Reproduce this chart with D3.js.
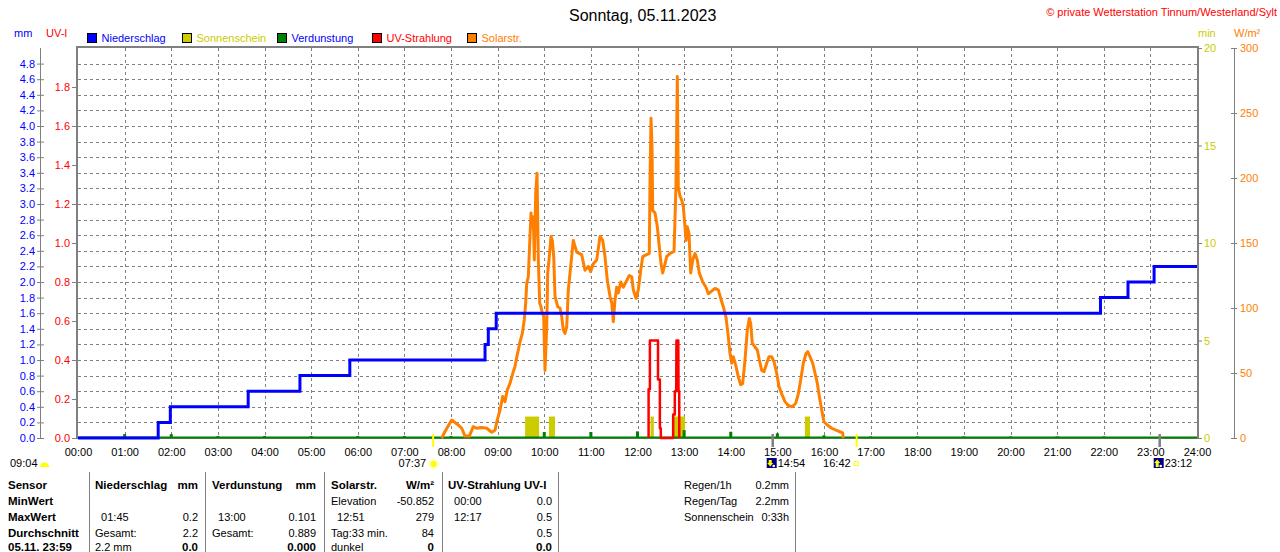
<!DOCTYPE html>
<html>
<head>
<meta charset="utf-8">
<script src="https://cdn.jsdelivr.net/npm/d3@7"></script>
<style>
body{margin:0;background:#fff;}
svg text{font-family:"Liberation Sans",Arial,sans-serif;white-space:pre;}
</style>
</head>
<body>
<div id="chart"></div>
<script>
/* ---------- Daten ---------- */
// Niederschlag, Tagessumme in mm (Stufen)
var rainTime  = [0, 1.72, 1.98, 3.65, 4.76, 5.83, 8.73, 8.80, 8.97, 21.93, 22.52, 23.08, 24];
var rainValue = [0, 0.2, 0.4, 0.6, 0.8, 1.0, 1.2, 1.4, 1.6, 1.8, 2.0, 2.2, 2.2];

// Sonnenschein, Minuten je Intervall
var sunFrom    = [9.59, 10.10, 12.28, 12.77, 15.59];
var sunTo      = [9.89, 10.23, 12.35, 13.02, 15.70];
var sunMinutes = [1.1, 1.1, 1.1, 1.1, 1.1];

// Verdunstung je Stunde, mm
var evapHour  = [1, 2, 3, 4, 5, 6, 7, 8, 9, 10, 11, 12, 13, 14, 15, 16, 17, 18, 19, 20, 21, 22, 23];
var evapValue = [0.05, 0.05, 0.025, 0.025, 0.025, 0.025, 0.025, 0.025, 0.01, 0.077, 0.077, 0.085, 0.101,
                 0.08, 0.06, 0.035, 0.02, 0.02, 0.02, 0.02, 0.02, 0.02, 0.01];

// UV-Strahlung, UV-Index
var uvTime  = [0, 12.238, 12.238, 12.266, 12.266, 12.44, 12.44, 12.48, 12.48, 12.50, 12.50,
               12.765, 12.765, 12.80, 12.80, 12.83, 12.835, 12.875, 12.88, 12.895, 12.895, 24];
var uvValue = [0, 0, 0.25, 0.25, 0.5, 0.5, 0.3, 0.3, 0.05, 0.05, 0,
               0, 0.12, 0.12, 0.24, 0.24, 0.5, 0.5, 0.24, 0.24, 0, 0];

// Solarstrahlung, W/m²
var solarTime = [7.801, 7.871, 8.015, 8.122, 8.230, 8.300, 8.393, 8.478, 8.551, 8.659, 8.766, 8.873, 8.944,
    8.993, 9.051, 9.109, 9.158, 9.208, 9.265, 9.336, 9.373, 9.409, 9.444, 9.480, 9.529, 9.572, 9.602,
    9.624, 9.658, 9.694, 9.716, 9.744, 9.765, 9.787, 9.817, 9.845, 9.873, 9.903, 9.930, 9.958, 9.988,
    10.016, 10.053, 10.074, 10.102, 10.145, 10.173, 10.203, 10.231, 10.289, 10.338, 10.374, 10.409,
    10.445, 10.482, 10.516, 10.567, 10.623, 10.696, 10.803, 10.874, 10.945, 10.996, 11.052, 11.125,
    11.196, 11.254, 11.303, 11.352, 11.410, 11.447, 11.481, 11.517, 11.554, 11.588, 11.640, 11.695,
    11.753, 11.824, 11.876, 11.910, 11.968, 12.017, 12.069, 12.112, 12.197, 12.253, 12.268, 12.290,
    12.311, 12.326, 12.376, 12.425, 12.468, 12.504, 12.540, 12.590, 12.626, 12.697, 12.783, 12.804,
    12.826, 12.854, 12.875, 12.912, 12.948, 12.982, 13.019, 13.040, 13.068, 13.104, 13.141, 13.184,
    13.233, 13.283, 13.325, 13.398, 13.469, 13.519, 13.591, 13.662, 13.733, 13.784, 13.840, 13.898,
    13.947, 13.984, 14.020, 14.054, 14.106, 14.162, 14.213, 14.256, 14.306, 14.355, 14.398, 14.428,
    14.462, 14.520, 14.570, 14.613, 14.664, 14.713, 14.771, 14.820, 14.878, 14.928, 14.985, 15.035,
    15.093, 15.163, 15.234, 15.320, 15.393, 15.449, 15.500, 15.556, 15.614, 15.651, 15.700, 15.758,
    15.807, 15.857, 15.900, 15.951, 16.000, 16.071, 16.165, 16.257, 16.328, 16.401, 16.414];
var solarValue = [0, 5, 13.8, 11, 7.5, 1.5, 1.5, 8.7, 7.5, 8, 7.5, 4.4, 6,
    14, 21.5, 32, 28, 37, 42, 51, 55, 62, 67.7, 74, 80.5, 91, 103.6,
    119, 124, 155, 173, 162.5, 170, 137, 188, 203.6, 137, 103.6, 101, 96, 93.6,
    52, 85.6, 127, 137, 155, 152, 139.5, 109, 101, 100, 93.6, 83,
    80.5, 85.6, 114, 132, 152, 143, 141, 129, 132, 128, 134, 137,
    155, 152, 139.5, 121.5, 109, 104, 89.5, 106, 116, 111.5, 120, 116,
    120, 125, 124, 114, 107.5, 114, 129, 139.5, 141, 142, 196, 246,
    224, 175, 173, 162.5, 147, 134, 127, 134, 139.5, 142, 143.5, 168,
    196, 278, 193, 186, 183, 178, 162.5, 152, 162.5, 157.5, 127, 137,
    142, 137, 127, 120, 116, 111, 113, 115, 114, 107.5, 101, 93,
    78, 65, 57.5, 62.5, 56, 47, 41, 42, 60, 83, 92, 88,
    73, 70, 67.7, 60, 52, 51, 57.5, 62.5, 62.5, 58.7, 50, 39.5,
    34, 28, 25, 24, 26.7, 34, 44.6, 57.5, 65, 66.4, 62.5, 57.5,
    50, 42, 32, 21.5, 12.5, 10, 7.5, 6, 5, 4, 0];

// Achsen
var hourTicks = d3.range(0, 25);
var mmTicks   = d3.range(0, 4.81, 0.2);
var uvTicks   = d3.range(0, 1.81, 0.2);
var minTicks  = [0, 5, 10, 15, 20];
var wTicks    = [0, 50, 100, 150, 200, 250, 300];

// Legende
var legendNames  = ["Niederschlag", "Sonnenschein", "Verdunstung", "UV-Strahlung", "Solarstr."];
var legendFill   = ["#0000ff", "#cccc00", "#008000", "#ff0000", "#ff8000"];
var legendColor  = ["#0000ff", "#cccc00", "#0000ff", "#ff0000", "#ff8000"];

// Sonne / Mond
var sunEvents  = [{t: 7.617, label: "07:37", type: "rise"}, {t: 16.70, label: "16:42", type: "set"}];
var moonEvents = [{t: 14.90, label: "14:54", type: "set"}, {t: 23.20, label: "23:12", type: "rise"}];
var dayLength  = "09:04";

// Tabelle
var tableRows = [
    ["Sensor", "Niederschlag", "mm", "Verdunstung", "mm", "Solarstr.", "W/m²", "UV-Strahlung UV-I", ""],
    ["MinWert", "", "", "", "", "Elevation", "-50.852", "  00:00", "0.0"],
    ["MaxWert", "  01:45", "0.2", "  13:00", "0.101", "  12:51", "279", "  12:17", "0.5"],
    ["Durchschnitt", "Gesamt:", "2.2", "Gesamt:", "0.889", "Tag:33 min.", "84", "", "0.5"],
    ["05.11. 23:59", "2.2 mm", "0.0", "", "0.000", "dunkel", "0", "", "0.0"]
];
var sideRows = [["Regen/1h", "0.2mm"], ["Regen/Tag", "2.2mm"], ["Sonnenschein", "0:33h"]];

/* ---------- Layout ---------- */
var chart = {width: 1280, height: 552, left: 78, right: 1197, top: 48, bottom: 438};
var grey = "#808080";

var svg = d3.select("#chart")
    .append("svg")
    .attr("width", chart.width)
    .attr("height", chart.height);

svg.append("rect").attr("width", chart.width).attr("height", chart.height).style("fill", "#fff");

var x    = d3.scaleLinear().domain([0, 24]).range([chart.left, chart.right]);
var yMm  = d3.scaleLinear().domain([0, 5]).range([chart.bottom, chart.top]);
var yUv  = d3.scaleLinear().domain([0, 2]).range([chart.bottom, chart.top]);
var yMin = d3.scaleLinear().domain([0, 20]).range([chart.bottom, chart.top]);
var yW   = d3.scaleLinear().domain([0, 300]).range([chart.bottom, chart.top]);

/* Titel */
svg.append("text")
    .attr("x", 569).attr("y", 21)
    .text("Sonntag, 05.11.2023")
    .style("font-size", "16px")
    .style("fill", "#000");

svg.append("text")
    .attr("x", 1277).attr("y", 16)
    .attr("text-anchor", "end")
    .text("© private Wetterstation Tinnum/Westerland/Sylt")
    .style("font-size", "11px")
    .style("fill", "#ff0000");

/* Einheiten */
var units = [
    {x: 14, anchor: "start", text: "mm", color: "#0000ff"},
    {x: 46, anchor: "start", text: "UV-I", color: "#ff0000"},
    {x: 1198, anchor: "start", text: "min", color: "#cccc00"},
    {x: 1234, anchor: "start", text: "W/m²", color: "#ff8000"}
];
svg.selectAll("text.unit")
    .data(units)
    .enter()
    .append("text")
    .attr("class", "unit")
    .attr("x", function (d) { return d.x; })
    .attr("y", 37)
    .attr("text-anchor", function (d) { return d.anchor; })
    .text(function (d) { return d.text; })
    .style("font-size", "11px")
    .style("fill", function (d) { return d.color; });

/* Legende */
var legend = svg.selectAll("g.legend")
    .data(legendNames)
    .enter()
    .append("g")
    .attr("class", "legend")
    .attr("transform", function (d, i) { return "translate(" + (87.5 + i * 95) + ",33.5)"; });

legend.append("rect")
    .attr("width", 9).attr("height", 9)
    .style("fill", function (d, i) { return legendFill[i]; })
    .style("stroke", "#000")
    .style("stroke-width", 1);

legend.append("text")
    .attr("x", 14).attr("y", 8.5)
    .text(function (d) { return d; })
    .style("font-size", "11px")
    .style("fill", function (d, i) { return legendColor[i]; });

/* Gitter */
var grid = svg.append("g").style("stroke", grey).style("stroke-dasharray", "3,3").style("stroke-width", 1);
grid.selectAll("line.h")
    .data(mmTicks.filter(function (d) { return d > 0; }))
    .enter()
    .append("line")
    .attr("x1", chart.left).attr("x2", chart.right)
    .attr("y1", function (d) { return Math.round(yMm(d)) + 0.5; })
    .attr("y2", function (d) { return Math.round(yMm(d)) + 0.5; });
grid.selectAll("line.v")
    .data(hourTicks.filter(function (d) { return d > 0 && d < 24; }))
    .enter()
    .append("line")
    .attr("y1", chart.top).attr("y2", chart.bottom)
    .attr("x1", function (d) { return Math.round(x(d)) + 0.5; })
    .attr("x2", function (d) { return Math.round(x(d)) + 0.5; });

/* Rahmen */
svg.append("rect")
    .attr("x", chart.left - 1).attr("y", chart.top - 1)
    .attr("width", chart.right - chart.left + 2)
    .attr("height", chart.bottom - chart.top + 1)
    .style("fill", "none")
    .style("stroke", grey)
    .style("stroke-width", 2);

/* Achsen */
function styleAxis(g, color) {
    g.select(".domain").remove();
    g.selectAll(".tick line").style("stroke", grey);
    g.selectAll(".tick text")
        .style("fill", color)
        .style("font-size", "11px")
        .style("font-family", "'Liberation Sans',Arial,sans-serif");
}

// mm (links außen)
svg.append("line")
    .attr("x1", 40.5).attr("x2", 40.5).attr("y1", chart.top).attr("y2", chart.bottom)
    .style("stroke", grey).style("stroke-width", 1);
svg.append("g")
    .attr("transform", "translate(44,0)")
    .call(d3.axisLeft(yMm).tickValues(mmTicks).tickFormat(d3.format(".1f")).tickSize(7).tickPadding(2))
    .call(styleAxis, "#0000ff");

// UV-I (links innen)
svg.append("g")
    .attr("transform", "translate(77,0)")
    .call(d3.axisLeft(yUv).tickValues(uvTicks).tickFormat(d3.format(".1f")).tickSize(5).tickPadding(2))
    .call(styleAxis, "#ff0000");

// min (rechts)
svg.append("g")
    .attr("transform", "translate(" + chart.right + ",0)")
    .call(d3.axisRight(yMin).tickValues(minTicks).tickSize(5).tickPadding(2))
    .call(styleAxis, "#cccc00");

// W/m² (rechts außen)
svg.append("line")
    .attr("x1", 1234.5).attr("x2", 1234.5).attr("y1", chart.top).attr("y2", chart.bottom)
    .style("stroke", grey).style("stroke-width", 1);
svg.append("g")
    .attr("transform", "translate(1231,0)")
    .call(d3.axisRight(yW).tickValues(wTicks).tickSize(6).tickPadding(3))
    .call(styleAxis, "#ff8000");

// Zeit
svg.append("g")
    .attr("transform", "translate(0," + chart.bottom + ")")
    .call(d3.axisBottom(x).tickValues(hourTicks)
        .tickFormat(function (d) { return d3.format("02")(d) + ":00"; })
        .tickSize(0).tickPadding(10))
    .call(styleAxis, "#000");

/* Sonnenschein */
svg.selectAll("rect.sun")
    .data(sunFrom)
    .enter()
    .append("rect")
    .attr("class", "sun")
    .attr("x", function (d) { return x(d); })
    .attr("width", function (d, i) { return x(sunTo[i]) - x(d); })
    .attr("y", function (d, i) { return yMin(sunMinutes[i]); })
    .attr("height", function (d, i) { return chart.bottom - yMin(sunMinutes[i]); })
    .style("fill", "#cccc00");

/* Verdunstung */
svg.selectAll("rect.evap")
    .data(evapHour)
    .enter()
    .append("rect")
    .attr("class", "evap")
    .attr("x", function (d) { return x(d) - 1.5; })
    .attr("width", 3)
    .attr("y", function (d, i) { return yMm(evapValue[i]); })
    .attr("height", function (d, i) { return chart.bottom - yMm(evapValue[i]); })
    .style("fill", "#008000");

svg.append("line")
    .attr("x1", chart.left).attr("x2", chart.right)
    .attr("y1", chart.bottom - 0.5).attr("y2", chart.bottom - 0.5)
    .style("stroke", "#008000")
    .style("stroke-width", 2);

/* Solarstrahlung */
var solarLine = d3.line()
    .x(function (d) { return x(d[0]); })
    .y(function (d) { return yW(d[1]); });
svg.append("path")
    .attr("d", solarLine(d3.zip(solarTime, solarValue)))
    .style("fill", "none")
    .style("stroke", "#ff8000")
    .style("stroke-width", 3)
    .style("stroke-linejoin", "round");

/* UV-Strahlung */
var uvLine = d3.line()
    .x(function (d) { return x(d[0]); })
    .y(function (d) { return yUv(d[1]); });
svg.append("path")
    .attr("d", uvLine(d3.zip(uvTime, uvValue).filter(function (d, i) {
        return d[1] > 0 || (uvValue[i - 1] > 0) || (uvValue[i + 1] > 0);
    })))
    .style("fill", "none")
    .style("stroke", "#ff0000")
    .style("stroke-width", 2.5)
    .style("stroke-linejoin", "round");

/* Niederschlag */
var rainLine = d3.line()
    .x(function (d) { return x(d[0]); })
    .y(function (d) { return yMm(d[1]); })
    .curve(d3.curveStepAfter);
svg.append("path")
    .attr("d", rainLine(d3.zip(rainTime, rainValue)))
    .style("fill", "none")
    .style("stroke", "#0000ff")
    .style("stroke-width", 3);

/* Sonne und Mond unter der Zeitachse */
var astro = svg.append("g");

sunEvents.forEach(function (e) {
    var cx = x(e.t);
    astro.append("line")
        .attr("x1", cx).attr("x2", cx).attr("y1", 434).attr("y2", 447)
        .style("stroke", "#ffff00").style("stroke-width", 2);
    if (e.type == "rise") {
        var s = astro.append("g").attr("transform", "translate(" + (cx + 0.5) + ",464)");
        d3.range(8).forEach(function (k) {
            var a = k * Math.PI / 4;
            s.append("line")
                .attr("x1", Math.cos(a) * 3.5).attr("y1", Math.sin(a) * 3.5)
                .attr("x2", Math.cos(a) * 5.5).attr("y2", Math.sin(a) * 5.5)
                .style("stroke", "#ffff66").style("stroke-width", 1);
        });
        s.append("circle").attr("r", 3.2).style("fill", "#ffff00");
        astro.append("text")
            .attr("x", cx - 7).attr("y", 467).attr("text-anchor", "end")
            .text(e.label).style("font-size", "11px").style("fill", "#000");
    } else {
        astro.append("rect")
            .attr("x", cx - 2.5).attr("y", 461.5).attr("width", 4).attr("height", 4)
            .style("fill", "none").style("stroke", "#ffff00");
        astro.append("text")
            .attr("x", cx - 6).attr("y", 467).attr("text-anchor", "end")
            .text(e.label).style("font-size", "11px").style("fill", "#000");
    }
});

moonEvents.forEach(function (e) {
    var cx = x(e.t);
    astro.append("line")
        .attr("x1", cx).attr("x2", cx).attr("y1", 434).attr("y2", 447)
        .style("stroke", grey).style("stroke-width", 2.5);
    var m = astro.append("g").attr("transform", "translate(" + (cx - 6) + ",458)");
    m.append("rect").attr("width", 10).attr("height", 10).style("fill", "#000080");
    m.append("circle").attr("cx", 7).attr("cy", 8).attr("r", 1.3).style("fill", "#fff");
    m.append("path")
        .attr("d", e.type == "set" ? "M2,2 L5,2 L5,5 L6.5,5 L3.5,8.5 L0.5,5 L2,5 Z"
                                    : "M3.5,1.5 L6.5,5 L5,5 L5,9 L2,9 L2,5 L0.5,5 Z")
        .style("fill", "#ffff00");
    astro.append("text")
        .attr("x", cx + 5).attr("y", 467)
        .text(e.label).style("font-size", "11px").style("fill", "#000");
});

astro.append("text")
    .attr("x", 10).attr("y", 467)
    .text(dayLength).style("font-size", "11px").style("fill", "#000");
astro.append("path")
    .attr("transform", "translate(44.5,467)")
    .attr("d", d3.arc()({innerRadius: 0, outerRadius: 4.5, startAngle: -Math.PI / 2, endAngle: Math.PI / 2}))
    .style("fill", "#ffff00");

/* Tabelle */
var colX      = [8, 95, 198, 212, 316, 331, 434, 448, 552];
var colAnchor = ["start", "start", "end", "start", "end", "start", "end", "start", "end"];
var rowY      = [489, 505, 521, 536.5, 550.5];

[89, 205, 324, 442, 558, 795].forEach(function (sx) {
    svg.append("line")
        .attr("x1", sx + 0.5).attr("x2", sx + 0.5).attr("y1", 472).attr("y2", chart.height)
        .style("stroke", grey).style("stroke-width", 1);
});

tableRows.forEach(function (row, r) {
    row.forEach(function (cell, c) {
        if (cell === "") return;
        var bold = r == 0 || c == 0 || (r == 4 && colAnchor[c] == "end");
        svg.append("text")
            .attr("xml:space", "preserve")
            .attr("x", colX[c]).attr("y", rowY[r])
            .attr("text-anchor", colAnchor[c])
            .text(cell)
            .style("font-size", bold ? "11.5px" : "11px")
            .style("font-weight", bold ? "bold" : "normal")
            .style("fill", "#000");
    });
});

sideRows.forEach(function (row, r) {
    svg.append("text")
        .attr("x", 684).attr("y", rowY[r])
        .text(row[0]).style("font-size", "11px").style("fill", "#000");
    svg.append("text")
        .attr("x", 789).attr("y", rowY[r]).attr("text-anchor", "end")
        .text(row[1]).style("font-size", "11px").style("fill", "#000");
});
</script>
</body>
</html>
